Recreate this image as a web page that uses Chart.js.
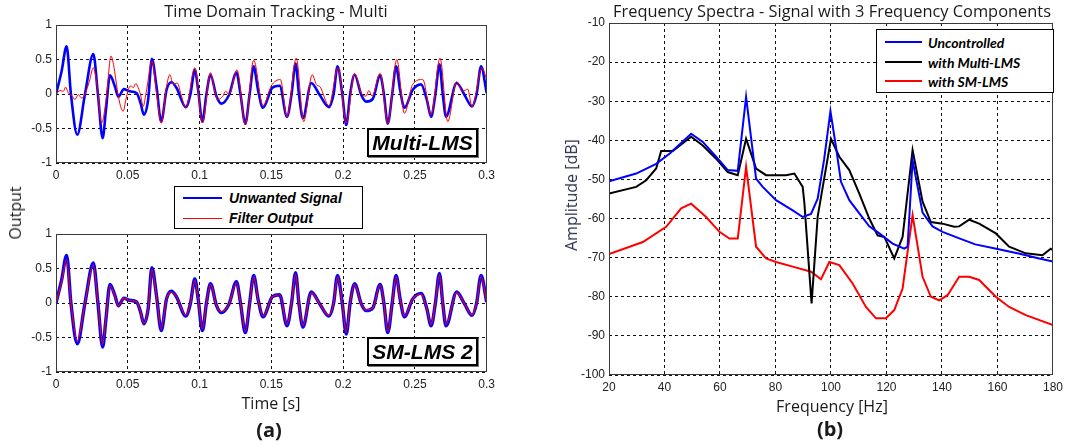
<!DOCTYPE html>
<html>
<head>
<meta charset="utf-8">
<script src="https://cdn.jsdelivr.net/npm/chart.js@4.4.0/dist/chart.umd.min.js"></script>
<style>
  body { margin: 0; background: #fff; width: 1068px; height: 446px; position: relative; overflow: hidden; }
  canvas { position: absolute; }
  .lbl { position: absolute; white-space: nowrap; color: #1a1a1a; transform: translate(-50%, -50%); font-family: 'Open Sans', sans-serif; }
  .title { font-size: 16.4px; }
  .axis { font-size: 16px; }
  .panel { font-size: 20px; font-weight: bold; }
  .tag { position: absolute; border: 2px solid #000; box-shadow: 1px 1px 0 #777; background: #fff;
         font-family: 'Liberation Sans', Arial, sans-serif; font-weight: bold; font-style: italic; font-size: 21px;
         display: flex; align-items: center; justify-content: center; box-sizing: border-box; }
  .legend { position: absolute; border: 1px solid #000; background: #fff; box-sizing: border-box; }
  .legend .swatch { position: absolute; }
  .legend .name { position: absolute; white-space: nowrap; font-weight: bold; font-style: italic; color: #000; transform: translateY(-50%); }
</style>
</head>
<body>
<canvas id="timeMulti" width="500" height="185" style="left:0;top:0"></canvas>
<canvas id="timeSm" width="500" height="185" style="left:0;top:209px"></canvas>
<canvas id="spectra" width="508" height="397" style="left:560px;top:0"></canvas>

<div class="lbl title" style="left:276px;top:10px">Time Domain Tracking - Multi</div>
<div class="lbl axis" style="left:15px;top:213px;transform:translate(-50%,-50%) rotate(-90deg)">Output</div>
<div class="lbl axis" style="left:271px;top:403px">Time [s]</div>
<div class="lbl panel" style="left:269px;top:429px">(a)</div>

<div class="lbl title" style="left:832px;top:10px">Frequency Spectra - Signal with 3 Frequency Components</div>
<div class="lbl axis" style="left:571px;top:195px;color:#2c3050;transform:translate(-50%,-50%) rotate(-90deg)">Amplitude [dB]</div>
<div class="lbl axis" style="left:832px;top:406px">Frequency [Hz]</div>
<div class="lbl panel" style="left:830px;top:428px">(b)</div>

<div class="tag" style="left:367px;top:128px;width:111px;height:29px">Multi-LMS</div>
<div class="tag" style="left:367px;top:337px;width:111px;height:29px">SM-LMS 2</div>

<div id="legendTime" class="legend" style="left:174px;top:186px;width:189px;height:43px"></div>
<div id="legendSpectra" class="legend" style="left:876px;top:29px;width:178px;height:64px"></div>

<script>
// ---- tick positions ----
const tickTime = [0, 0.05, 0.1, 0.15, 0.2, 0.25, 0.3];
const tickOutput = [-1, -0.5, 0, 0.5, 1];
const tickFreq = [20, 40, 60, 80, 100, 120, 140, 160, 180];
const tickDb = [-100, -90, -80, -70, -60, -50, -40, -30, -20, -10];

// ---- unwanted signal (time in s, output) ----
const tUnwanted = [
  0, 0.0039, 0.0074, 0.0104, 0.0148, 0.0202, 0.0260, 0.0292, 0.0325, 0.0348,
  0.0376, 0.0410, 0.0434, 0.0473, 0.0510, 0.0561, 0.0589, 0.0612, 0.0642, 0.0668,
  0.0700, 0.0733, 0.0770, 0.0804, 0.0839, 0.0904, 0.0937, 0.0967, 0.0990, 0.1020,
  0.1048, 0.1076, 0.1117, 0.1152, 0.1206, 0.1257, 0.1284, 0.1319, 0.1349, 0.1377,
  0.1407, 0.1442, 0.1507, 0.1558, 0.1609, 0.1641, 0.1669, 0.1692, 0.1720, 0.1778,
  0.1836, 0.1901, 0.1934, 0.1961, 0.1994, 0.2022, 0.2049, 0.2080, 0.2126, 0.2161,
  0.2207, 0.2258, 0.2284, 0.2311, 0.2342, 0.2369, 0.2397, 0.2427, 0.2485, 0.2543,
  0.2583, 0.2613, 0.2643, 0.2671, 0.2694, 0.2717, 0.2791, 0.2845, 0.2898, 0.2930,
  0.2961, 0.3000
];
const vUnwanted = [
  0, 0.33, 0.69, 0, -0.59, 0, 0.58, 0, -0.64, -0.23,
  0.27, 0.11, -0.04, 0.07, 0.04, 0.015, -0.13, -0.30, -0.08, 0.51,
  0.11, -0.40, 0.06, 0.17, 0.09, -0.19, 0, 0.35, 0.06, -0.40,
  0, 0.28, -0.03, -0.14, -0.01, 0.31, 0.015, -0.43, 0, 0.40,
  0.06, -0.20, 0.09, 0.12, -0.33, 0, 0.44, 0, -0.35, 0.16,
  -0.01, -0.19, 0, 0.40, 0, -0.45, 0, 0.28, -0.01, -0.11,
  -0.07, 0.27, 0, -0.43, 0, 0.40, 0.06, -0.20, 0.06, 0.14,
  -0.08, -0.33, 0, 0.43, 0, -0.33, 0.16, -0.01, -0.18, 0,
  0.40, 0.015
];

// ---- filter output, Multi-LMS ----
const tMultiOut = [
  0, 0.0028, 0.0051, 0.0067, 0.0086, 0.0109, 0.0132, 0.0155, 0.0179, 0.0202,
  0.0232, 0.0260, 0.0287, 0.0318, 0.0352, 0.0383, 0.0403, 0.0427, 0.0450, 0.0468,
  0.0487, 0.0503, 0.0522, 0.0538, 0.0556, 0.0573, 0.0589, 0.0607, 0.0631, 0.0668,
  0.0700, 0.0733, 0.0770, 0.0793, 0.0816, 0.0844, 0.0874, 0.0904, 0.0967, 0.1020,
  0.1076, 0.1106, 0.1129, 0.1159, 0.1182, 0.1206, 0.1261, 0.1319, 0.1377, 0.1442,
  0.1500, 0.1563, 0.1609, 0.1674, 0.1725, 0.1785, 0.1813, 0.1841, 0.1901, 0.1964,
  0.2022, 0.2080, 0.2126, 0.2161, 0.2179, 0.2202, 0.2258, 0.2311, 0.2374, 0.2427,
  0.2485, 0.2555, 0.2613, 0.2675, 0.2729, 0.2791, 0.2833, 0.2868, 0.2898, 0.2968,
  0.3000
];
const vMultiOut = [
  0, 0.05, 0.04, 0.10, 0.015, -0.02, -0.08, -0.01, -0.06, 0,
  0.18, 0.38, 0.11, -0.42, -0.03, 0.55, 0.40, 0.06, -0.18, -0.25,
  -0.08, 0.06, 0.12, 0.09, 0.15, 0.09, -0.01, -0.18, 0.06, 0.48,
  0.015, -0.42, 0.11, 0.28, 0.14, 0.16, -0.03, -0.20, 0.38, -0.42,
  0.31, 0.04, -0.08, -0.04, 0.04, -0.01, 0.35, -0.45, 0.49, -0.17,
  0.12, 0.21, -0.33, 0.52, -0.40, 0.28, 0.14, 0.10, -0.17, 0.38,
  -0.42, 0.30, 0.015, -0.03, 0.05, -0.03, 0.30, -0.43, 0.50, -0.28,
  0.14, 0.21, -0.30, 0.52, -0.40, 0.18, 0.04, 0.07, -0.18, 0.38,
  0.21
];

// ---- filter output, SM-LMS 2 (same time base as the unwanted signal) ----
const vSmOut = [
  0, 0.30, 0.63, 0, -0.55, 0, 0.55, 0, -0.60, -0.22,
  0.25, 0.10, -0.04, 0.07, 0.04, 0.015, -0.13, -0.29, -0.08, 0.49,
  0.10, -0.38, 0.06, 0.16, 0.09, -0.18, 0, 0.33, 0.06, -0.38,
  0, 0.27, -0.03, -0.13, -0.01, 0.29, 0.015, -0.41, 0, 0.38,
  0.06, -0.19, 0.09, 0.12, -0.31, 0, 0.42, 0, -0.33, 0.15,
  -0.01, -0.18, 0, 0.38, 0, -0.43, 0, 0.27, -0.01, -0.10,
  -0.07, 0.26, 0, -0.41, 0, 0.38, 0.06, -0.19, 0.06, 0.13,
  -0.08, -0.31, 0, 0.41, 0, -0.31, 0.15, -0.01, -0.17, 0,
  0.38, 0.015
];

// ---- spectra (Hz, dB) ----
const fUncontrolled = [20, 29.8, 37, 42, 49.6, 53.8, 58.6, 62.8, 66.4, 69.4, 73, 75.4, 80.2, 86.2, 89.8, 92.8, 95.2, 97.5, 99.8, 101.8,
  103.6, 106.6, 110.2, 113.8, 117.4, 122.2, 126.4, 127.6, 129.4, 133, 136.6, 140.2, 146, 152, 160, 168, 175, 180];
const dbUncontrolled = [-50.5, -48.5, -46, -43.3, -38.3, -40.4, -44.2, -47.6, -47.8, -28.9, -49.8, -51.9, -55.3, -57.9, -59.6, -58.8, -54.9, -45, -32.5, -41.7,
  -50.6, -55.3, -58.7, -62, -63.8, -66.4, -67.7, -67.2, -45.1, -58.5, -62, -63.4, -65, -66.6, -67.8, -69, -70.2, -71];

const fMulti = [20, 29.8, 33.4, 37, 38.8, 43, 49.6, 53.8, 58.6, 62.8, 66.4, 69.4, 73, 76.6, 83.8, 86.8, 89.8, 90.4, 93, 95.2,
  100, 103, 106.6, 110.2, 113.8, 116.8, 119.2, 122.8, 125.8, 129.4, 133, 136, 140.2, 144.4, 146.2, 149.8, 153.4, 159.4, 164.2, 170.2,
  176.2, 179.2, 180];
const dbMulti = [-53.6, -51.9, -50.2, -47.2, -42.7, -42.7, -39.1, -41.3, -44.7, -48.1, -48.9, -39.6, -47.2, -48.9, -48.9, -48.5, -51.9, -56, -81.7, -59.5,
  -39.6, -44.2, -47.6, -53.6, -60, -64.3, -64.7, -70.2, -64.7, -42.5, -55.7, -60.9, -61.3, -62.1, -62, -60.3, -61.3, -63.8, -67.2, -68.9,
  -69.4, -67.7, -68.1];

const fSm = [20, 32.2, 40.6, 46, 49.6, 55, 59.8, 63.4, 66.4, 69.4, 73, 76.6, 80.2, 86.2, 92.8, 96.4, 99.4, 103, 107.8, 112.6,
  116.2, 119.8, 122.8, 125.8, 129.4, 133, 136, 139, 142, 146.2, 149.8, 153.4, 159.4, 164.2, 170.2, 180];
const dbSm = [-69.1, -66, -62.1, -57.4, -56.2, -59.6, -63.4, -65.1, -65.1, -46.8, -67.2, -70.2, -71.1, -72.3, -73.6, -75.5, -71.1, -71.9, -76.6, -82.6,
  -85.5, -85.5, -83.4, -77.9, -59.1, -74.9, -80, -80.9, -79.6, -74.9, -74.9, -75.7, -80, -82.6, -84.7, -87.2];

const pairs = (xs, ys) => xs.map((x, i) => ({ x: x, y: ys[i] }));

// axes box drawn around the plotting area
const frame = {
  id: 'frame',
  afterDatasetsDraw(chart) {
    const a = chart.chartArea, c = chart.ctx;
    c.save();
    c.strokeStyle = '#3a3a3a';
    c.lineWidth = 1;
    c.strokeRect(Math.round(a.left) + 0.5, Math.round(a.top) + 0.5, Math.round(a.right - a.left) - 1, Math.round(a.bottom - a.top) - 1);
    c.restore();
  }
};

const tickFont = { family: "'Liberation Sans', Arial, sans-serif", size: 12 };

function axis(ticks, min, max, fixedSize, isX) {
  return {
    type: 'linear',
    min: min, max: max,
    afterBuildTicks: s => { s.ticks = ticks.map(v => ({ value: v })); },
    afterFit: s => { if (isX) s.height = fixedSize; else s.width = fixedSize; },
    grid: { color: '#111', lineWidth: 1, drawTicks: false },
    border: { display: false, dash: [3, 3] },
    ticks: { font: tickFont, color: '#222', padding: isX ? 5 : 4, maxRotation: 0, autoSkip: false,
             callback: v => String(v) }
  };
}

function baseOptions(padding, xs, ys) {
  return {
    responsive: false,
    animation: false,
    devicePixelRatio: 1,
    layout: { padding: padding },
    plugins: { legend: { display: false }, tooltip: { enabled: false } },
    elements: { point: { radius: 0 } },
    scales: { x: xs, y: ys }
  };
}

const timeOpts = () => baseOptions({ top: 25, right: 13, left: 0, bottom: 0 },
  axis(tickTime, 0, 0.3, 22, true), axis(tickOutput, -1, 1, 56, false));

const timeMulti = new Chart(document.getElementById('timeMulti'), {
  type: 'line',
  data: { datasets: [
    { label: 'Unwanted Signal', data: pairs(tUnwanted, vUnwanted), borderColor: '#0000ff', borderWidth: 2.6, cubicInterpolationMode: 'monotone', order: 2 },
    { label: 'Filter Output', data: pairs(tMultiOut, vMultiOut), borderColor: '#ff0000', borderWidth: 1, cubicInterpolationMode: 'monotone', order: 1 }
  ] },
  options: timeOpts(),
  plugins: [frame]
});

const timeSm = new Chart(document.getElementById('timeSm'), {
  type: 'line',
  data: { datasets: [
    { label: 'Unwanted Signal', data: pairs(tUnwanted, vUnwanted), borderColor: '#0000ff', borderWidth: 3.4, cubicInterpolationMode: 'monotone', order: 2 },
    { label: 'Filter Output', data: pairs(tUnwanted, vSmOut), borderColor: '#ff0000', borderWidth: 1.1, cubicInterpolationMode: 'monotone', order: 1 }
  ] },
  options: timeOpts(),
  plugins: [frame]
});

const spectra = new Chart(document.getElementById('spectra'), {
  type: 'line',
  data: { datasets: [
    { label: 'Uncontrolled', data: pairs(fUncontrolled, dbUncontrolled), borderColor: '#0000ff', borderWidth: 2, tension: 0 },
    { label: 'with Multi-LMS', data: pairs(fMulti, dbMulti), borderColor: '#000000', borderWidth: 2, tension: 0 },
    { label: 'with SM-LMS', data: pairs(fSm, dbSm), borderColor: '#ff0000', borderWidth: 2, tension: 0 }
  ] },
  options: baseOptions({ top: 23, right: 14, left: 0, bottom: 0 },
    axis(tickFreq, 20, 180, 22, true), axis(tickDb, -100, -10, 49, false)),
  plugins: [frame]
});

// legends built from the dataset labels and colours
function buildLegend(el, datasets, o) {
  datasets.forEach((ds, i) => {
    const cy = o.firstRow + i * o.rowGap;
    const sw = document.createElement('div');
    sw.className = 'swatch';
    sw.style.left = o.lineX + 'px';
    sw.style.width = o.lineW + 'px';
    sw.style.top = (cy - ds.borderWidth / 2) + 'px';
    sw.style.height = Math.max(1, ds.borderWidth) + 'px';
    sw.style.background = ds.borderColor;
    el.appendChild(sw);
    const nm = document.createElement('div');
    nm.className = 'name';
    nm.textContent = ds.label;
    nm.style.left = o.textX + 'px';
    nm.style.top = cy + 'px';
    nm.style.fontFamily = o.font;
    nm.style.fontSize = o.size + 'px';
    el.appendChild(nm);
  });
}

buildLegend(document.getElementById('legendTime'), timeMulti.data.datasets,
  { firstRow: 11, rowGap: 20, lineX: 8, lineW: 39, textX: 54, font: "'Liberation Sans', Arial, sans-serif", size: 14 });
buildLegend(document.getElementById('legendSpectra'), spectra.data.datasets,
  { firstRow: 12, rowGap: 19.5, lineX: 8, lineW: 37, textX: 51, font: "Lato, 'Open Sans', sans-serif", size: 14 });
</script>
</body>
</html>
